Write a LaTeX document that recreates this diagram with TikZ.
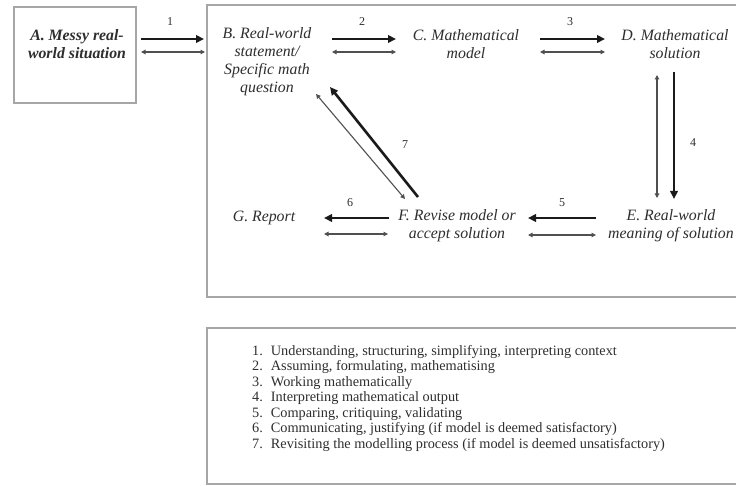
\documentclass[tikz,border=0pt]{standalone}
\usepackage{fontspec}
\setmainfont{Liberation Serif}
\usetikzlibrary{arrows.meta}
\definecolor{boxgray}{HTML}{A6A6A6}
\definecolor{txtgray}{HTML}{2E2E2E}
\definecolor{arrblack}{HTML}{1A1A1A}
\definecolor{thingray}{HTML}{505050}
\begin{document}
\begin{tikzpicture}[x=1pt,y=-1pt,
  box/.style={draw=boxgray, line width=1.3pt},
  lbl/.style={font=\fontsize{15.8}{18}\selectfont\itshape, text=txtgray, align=center, inner sep=0pt},
  numlbl/.style={font=\fontsize{12}{14}\selectfont, text=txtgray, inner sep=0pt},
  thickarr/.style={draw=arrblack, line width=2.6pt, -{Triangle[length=8pt,width=7.5pt]}},
  thinarr/.style={draw=thingray, line width=1.1pt, {Triangle[length=4.5pt,width=4.5pt]}-{Triangle[length=4.5pt,width=4.5pt]}}
]
\useasboundingbox (0,0) rectangle (736,486);
\fill[white] (0,0) rectangle (736,486);

% boxes
\draw[box] (14,7) rectangle (136,103);
\draw[box] (207,5) rectangle (760,297);
\draw[box] (207,328) rectangle (760,484);

% text nodes
\node[lbl, font=\fontsize{15.8}{18}\selectfont\bfseries\itshape] (A) at (77,44) {A. Messy real-\\world situation};
\node[lbl] (B) at (267,62) {B. Real-world\\statement/\\Specific math\\question};
\node[lbl] (C) at (466,44) {C. Mathematical\\model};
\node[lbl] (D) at (675,44) {D. Mathematical\\solution};
\node[lbl] (E) at (671,226) {E. Real-world\\meaning of solution};
\node[lbl] (F) at (457,226) {F. Revise model or\\accept solution};
\node[lbl] (G) at (264,218) {G. Report};

% arrow end coordinates
\coordinate (a1s) at (141,39); \coordinate (a1e) at (204,39);
\coordinate (b1s) at (141,52); \coordinate (b1e) at (205,52);
\coordinate (a2s) at (332,39); \coordinate (a2e) at (396,39);
\coordinate (b2s) at (332,52); \coordinate (b2e) at (396,52);
\coordinate (a3s) at (540,39); \coordinate (a3e) at (605,39);
\coordinate (b3s) at (540,52); \coordinate (b3e) at (605,52);
\coordinate (a4s) at (674,72); \coordinate (a4e) at (674,199);
\coordinate (b4s) at (657,75); \coordinate (b4e) at (657,198);
\coordinate (a5s) at (596,218); \coordinate (a5e) at (528,218);
\coordinate (b5s) at (528,235); \coordinate (b5e) at (596,235);
\coordinate (a6s) at (389,218); \coordinate (a6e) at (324,218);
\coordinate (b6s) at (324,234); \coordinate (b6e) at (388,234);
\coordinate (a7s) at (418,197); \coordinate (a7e) at (330,87);
\coordinate (b7s) at (316,94); \coordinate (b7e) at (405,199);

% arrows
\draw[thickarr] (a1s) -- (a1e); \draw[thinarr] (b1s) -- (b1e);
\draw[thickarr] (a2s) -- (a2e); \draw[thinarr] (b2s) -- (b2e);
\draw[thickarr] (a3s) -- (a3e); \draw[thinarr] (b3s) -- (b3e);
\draw[thickarr] (a4s) -- (a4e); \draw[thinarr] (b4s) -- (b4e);
\draw[thickarr] (a5s) -- (a5e); \draw[thinarr] (b5s) -- (b5e);
\draw[thickarr] (a6s) -- (a6e); \draw[thinarr] (b6s) -- (b6e);
\draw[thickarr] (a7s) -- (a7e); \draw[thinarr] (b7s) -- (b7e);

% step numbers
\node[numlbl] (n1) at (170,22) {1};
\node[numlbl] (n2) at (362,22) {2};
\node[numlbl] (n3) at (570,22) {3};
\node[numlbl] (n4) at (693,143) {4};
\node[numlbl] (n5) at (562,203) {5};
\node[numlbl] (n6) at (350,203) {6};
\node[numlbl] (n7) at (405,145) {7};

% legend
\node[anchor=north west, inner sep=0pt, text=txtgray, font=\fontsize{14.3}{15.5}\selectfont] (legend) at (252,344) {%
\begin{tabular}{@{}r@{\hspace{8pt}}l@{}}
1. & Understanding, structuring, simplifying, interpreting context\\
2. & Assuming, formulating, mathematising\\
3. & Working mathematically\\
4. & Interpreting mathematical output\\
5. & Comparing, critiquing, validating\\
6. & Communicating, justifying (if model is deemed satisfactory)\\
7. & Revisiting the modelling process (if model is deemed unsatisfactory)
\end{tabular}};
\end{tikzpicture}
\end{document}
